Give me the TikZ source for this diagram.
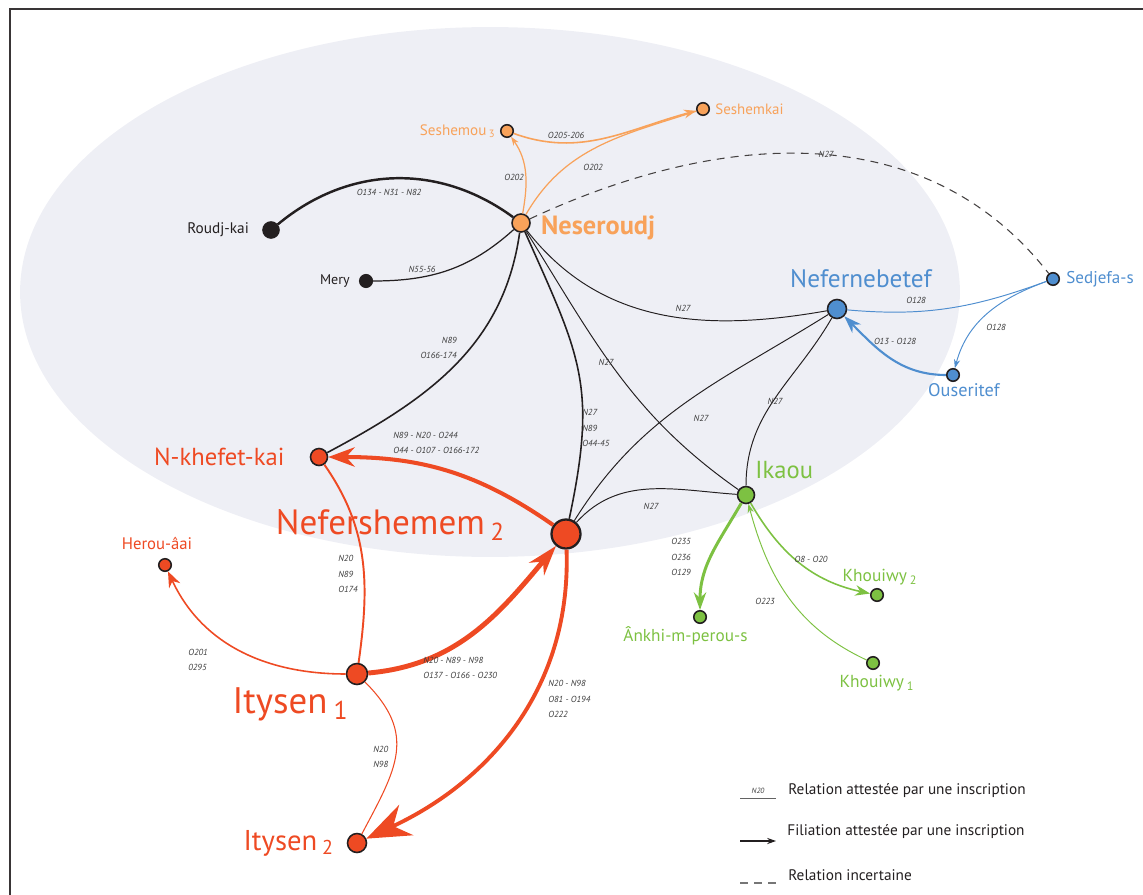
\documentclass[tikz,border=0pt]{standalone}
\usepackage{fontspec}
\setmainfont{PT Sans}
\usetikzlibrary{positioning, arrows.meta}

\definecolor{nes}{HTML}{F8A25A}
\definecolor{nef}{HTML}{EE4A23}
\definecolor{neb}{HTML}{4F8ECF}
\definecolor{ika}{HTML}{7DC142}
\definecolor{ink}{HTML}{231F20}
\definecolor{lab}{HTML}{3C3C3C}
\definecolor{halo}{HTML}{EEEFF5}

\newcommand{\fsz}[1]{\fontsize{#1}{#1}\selectfont}
\newcommand{\idx}[1]{\,\textsubscript{#1}}

\begin{document}
\begin{tikzpicture}[
    x=0.02cm, y=-0.02cm,
    pers/.style={circle, draw=ink, line width=0.9pt, fill=#1, inner sep=0pt},
    pers/.default=ink,
    who/.style={text=#1, inner sep=0pt},
    who/.default=ink,
    elbl/.style={font=\fontsize{5}{8.8}\selectfont\itshape, text=lab, align=left, inner sep=0pt},
    rel/.style={draw=#1, line width=0.55pt},
    rel/.default=ink,
    unsure/.style={draw=ink!85, line width=0.6pt, dash pattern=on 4.5pt off 3.5pt},
    legtxt/.style={font=\fsz{8.7pt}, text=ink, inner sep=0pt, anchor=west},
]
\useasboundingbox (0,0) rectangle (1143,895);

% halo of Neseroudj's circle
\fill[halo] (490,292) ellipse [x radius=9.4cm, y radius=5.3cm];
\draw[ink!90, line width=1.1pt] (10,895) |- (1143,9);

% persons
\node[pers=nes, minimum size=0.36cm] (nes) at (521,223) {};
\node[pers=nes, minimum size=0.25cm] (se3) at (507,131) {};
\node[pers=nes, minimum size=0.25cm] (sek) at (703,109) {};
\node[pers, minimum size=0.32cm] (rk) at (271,230) {};
\node[pers, minimum size=0.25cm] (mer) at (366,281) {};
\node[pers=neb, minimum size=0.38cm] (neb) at (837,309) {};
\node[pers=neb, minimum size=0.25cm] (sed) at (1053,279) {};
\node[pers=neb, minimum size=0.25cm] (ous) at (953,375) {};
\node[pers=ika, minimum size=0.34cm] (ika) at (746,495) {};
\node[pers=ika, minimum size=0.25cm] (ank) at (700,617) {};
\node[pers=ika, minimum size=0.25cm] (kh2) at (877,595) {};
\node[pers=ika, minimum size=0.25cm] (kh1) at (873,663) {};
\node[pers=nef, minimum size=0.34cm] (nkh) at (319,457) {};
\node[pers=nef, minimum size=0.58cm, line width=1.3pt] (nfs) at (566,534) {};
\node[pers=nef, minimum size=0.25cm] (her) at (165,565) {};
\node[pers=nef, minimum size=0.42cm] (it1) at (357,674) {};
\node[pers=nef, minimum size=0.38cm] (it2) at (357,843) {};

% names
\node[who=nes, font=\bfseries\fsz{15pt}, right=0.2cm of nes, yshift=-0.1cm] (nes-l) {Neseroudj};
\node[who=nes, font=\fsz{8.6pt}, left=0.08cm of se3] (se3-l) {Seshemou\idx{3}};
\node[who=nes, font=\fsz{8.5pt}, right=0.1cm of sek] (sek-l) {Seshemkai};
\node[who, font=\fsz{8.7pt}, left=0.26cm of rk] (rk-l) {Roudj-kai};
\node[who, font=\fsz{8pt}, left=0.18cm of mer] (mer-l) {Mery};
\node[who=neb, font=\fsz{14.4pt}, above=0.22cm of neb, xshift=0.48cm] (neb-l) {Nefernebetef};
\node[who=neb, font=\fsz{9.7pt}, right=0.12cm of sed] (sed-l) {Sedjefa-s};
\node[who=neb, font=\fsz{10.4pt}, below=0.02cm of ous, xshift=0.22cm] (ous-l) {Ouseritef};
\node[who=ika, font=\fsz{14pt}, above right=0.18cm and 0.05cm of ika] (ika-l) {Ikaou};
\node[who=ika, font=\fsz{9.8pt}, below=0.05cm of ank, xshift=-0.29cm] (ank-l) {Ânkhi-m-perou-s};
\node[who=ika, font=\fsz{9.9pt}, above=0.05cm of kh2, xshift=0.06cm] (kh2-l) {Khouiwy\idx{2}};
\node[who=ika, font=\fsz{9.9pt}, below=0.1cm of kh1, xshift=0.08cm] (kh1-l) {Khouiwy\idx{1}};
\node[who=nef, font=\fsz{14pt}, left=0.5cm of nkh] (nkh-l) {N-khefet-kai};
\node[who=nef, font=\fsz{20pt}, left=0.9cm of nfs, yshift=0.18cm] (nfs-l) {Nefershemem\idx{2}};
\node[who=nef, font=\fsz{9.5pt}, above=0.15cm of her, xshift=-0.16cm] (her-l) {Herou-âai};
\node[who=nef, font=\fsz{21pt}, below left=0.1cm and 0cm of it1] (it1-l) {Itysen\idx{1}};
\node[who=nef, font=\fsz{16.3pt}, left=0.25cm of it2] (it2-l) {Itysen\idx{2}};

% Neseroudj's relations
\draw[rel, line width=1.4pt] (rk) to[bend left=38] (nes);
\draw[rel, line width=0.7pt] (mer) to[out=0, in=222] (nes);
\draw[rel, line width=0.9pt] (nes) to[out=262, in=28] (nkh);
\draw[rel, line width=0.9pt] (nes) to[out=-66, in=78, looseness=1.2] (nfs);
\draw[rel] (nes) to[out=-58, in=145] (ika);
\draw[rel] (nes) to[out=-52, in=190] (neb);
\draw[unsure] (nes) to[out=25, in=128] (sed);
\draw[rel=nes, line width=0.7pt, -{Stealth[length=5pt, width=3.5pt]}] (nes) to[out=80, in=-55] (se3);
\draw[rel=nes, line width=0.7pt] (nes) to[out=60, in=198] (sek);
\draw[rel=nes, line width=0.9pt, -{Stealth[length=7pt, width=5pt]}] (se3) to[out=-20, in=195] (sek);

% Nefernebetef and Ikaou
\draw[rel] (nfs) to[out=58, in=212] (neb);
\draw[rel] (nfs) to[out=48, in=176] (ika);
\draw[rel] (ika) to[out=90, in=240] (neb);
\draw[rel=neb] (neb) to[out=-5, in=200] (sed);
\draw[rel=neb, -{Stealth[length=5pt, width=3.5pt]}] (sed) to[out=200, in=75] (ous);
\draw[rel=neb, line width=1.2pt, -{Stealth[length=10pt, width=7pt]}] (ous) to[out=180, in=-45] (neb);
\draw[rel=ika, line width=1.7pt, -{Stealth[length=10pt, width=7pt]}] (ika) to[out=240, in=90] (ank);
\draw[rel=ika, line width=0.9pt, -{Stealth[length=8.5pt, width=6pt]}] (ika) to[out=-60, in=168] (kh2);
\draw[rel=ika, -{Stealth[length=5pt, width=3.5pt]}] (kh1) to[out=155, in=-75] (ika);

% Nefershemem's family
\draw[rel=nef, line width=2.3pt, -{Stealth[length=15pt, width=11pt]}] (nfs) to[out=145, in=0] (nkh);
\draw[rel=nef, line width=1.1pt] (nkh) to[out=-55, in=82] (it1);
\draw[rel=nef, line width=0.9pt, -{Stealth[length=9pt, width=7pt]}] (it1) to[out=180, in=-65] (her);
\draw[rel=nef, line width=2.8pt, -{Stealth[length=17pt, width=11pt]}] (it1) to[out=5, in=230] (nfs);
\draw[rel=nef, line width=2.2pt, -{Stealth[length=25pt, width=19pt]}] (nfs) to[out=-88, in=25] (it2);
\draw[rel=nef, line width=0.6pt] (it1) to[out=-45, in=62, looseness=1.25] (it2);

% inscriptions
\node[elbl] (t-rk) at (389,192) {O134 - N31 - N82};
\node[elbl] (t-mer) at (422,269) {N55-56};
\node[elbl, align=right, anchor=east] (t-nkh) at (457,348) {N89\\O166-174};
\node[elbl, anchor=west] (t-nfs) at (582,428) {N27\\N89\\O44-45};
\node[elbl] (t-ika) at (606,362) {N27};
\node[elbl] (t-neb) at (683,308) {N27};
\node[elbl] (t-sed) at (826,154) {N27};
\node[elbl] (t-se3) at (514,177) {O202};
\node[elbl] (t-sek) at (593,167) {O202};
\node[elbl] (t-ses) at (566,135) {O205-206};
\node[elbl] (t-nfsneb) at (701,418) {N27};
\node[elbl] (t-ikaneb) at (775,401) {N27};
\node[elbl] (t-nfsika) at (651,506) {N27};
\node[elbl] (t-nebsed) at (916,300) {O128};
\node[elbl] (t-sedous) at (996,327) {O128};
\node[elbl] (t-ousneb) at (895,341) {O13 - O128};
\node[elbl, anchor=west] (t-ank) at (671,557) {O235\\O236\\O129};
\node[elbl] (t-kh2) at (811,559) {O8 - O20};
\node[elbl] (t-kh1) at (765,601) {O223};
\node[elbl, anchor=west] (t-nfsnkh) at (393,443) {N89 - N20 - O244\\O44 - O107 - O166-172};
\node[elbl, anchor=west] (t-nkhit1) at (338,574) {N20\\N89\\O174};
\node[elbl, anchor=west] (t-her) at (188,660) {O201\\0295};
\node[elbl, anchor=west] (t-it1nfs) at (423,668) {N20 - N89 - N98\\O137 - O166 - O230};
\node[elbl, anchor=west] (t-nfsit2) at (548,699) {N20 - N98\\O81 - O194\\O222};
\node[elbl, anchor=west] (t-it1it2) at (373,757) {N20\\N98};

% legend
\coordinate (lg1a) at (740,798); \coordinate (lg1b) at (776,798);
\coordinate (lg2a) at (740,841); \coordinate (lg2b) at (776,841);
\coordinate (lg3a) at (740,883); \coordinate (lg3b) at (776,883);
\draw[rel=lab!80] (lg1a) -- node[elbl, font=\fsz{4.3pt}\itshape, above=2.5pt] (lg1n) {N20} (lg1b);
\draw[rel, line width=0.7pt, -{Stealth[length=5pt, width=3.5pt]}] (lg2a) -- (lg2b);
\draw[unsure, draw=lab!70] (lg3a) -- (lg3b);
\node[legtxt] (lg1) at (788,791) {Relation attestée par une inscription};
\node[legtxt] (lg2) at (787,832) {Filiation attestée par une inscription};
\node[legtxt] (lg3) at (788,875) {Relation incertaine};
\end{tikzpicture}
\end{document}
